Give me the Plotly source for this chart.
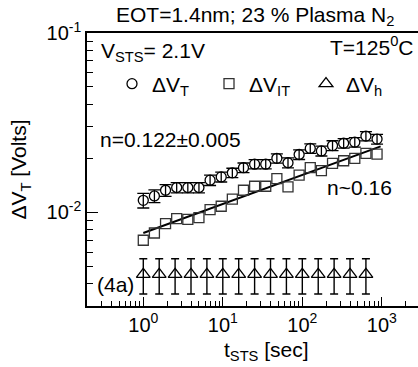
import plotly.graph_objects as go

# ---- data ----
t_T = [1.0, 1.380, 1.905, 2.630, 3.631, 5.012, 6.918, 9.550, 13.18, 18.20, 25.12,
       34.67, 47.86, 66.07, 91.20, 125.9, 173.8, 239.9, 331.1, 457.1, 631.0, 871.0]
dVT = [0.01166, 0.01233, 0.01327, 0.01374, 0.01374, 0.01374, 0.0151, 0.01575, 0.0166,
       0.01773, 0.01855, 0.01855, 0.01999, 0.01889, 0.0210, 0.0227, 0.0220, 0.02355,
       0.02427, 0.0246, 0.0266, 0.0256]
dVT_err = [0.0011, 0.0010, 0.0010, 0.0009, 0.0009, 0.0009, 0.0010, 0.0010, 0.0010,
           0.0011, 0.0011, 0.0011, 0.0012, 0.0012, 0.0013, 0.0014, 0.0014, 0.0015,
           0.0015, 0.0015, 0.0016, 0.0016]
dVIT = [0.00698, 0.00766, 0.00865, 0.00922, 0.00913, 0.00934, 0.01035, 0.0108, 0.01183,
        0.01327, 0.01397, 0.01397, 0.0154, 0.01386, 0.0161, 0.01773, 0.01706, 0.01874,
        0.01938, 0.01999, 0.0213, 0.0211]
t_h = [1.0, 1.585, 2.512, 3.981, 6.310, 10.0, 15.85, 25.12, 39.81, 63.10, 100.0,
       158.5, 251.2, 398.1, 631.0]
dVh = [0.0045, 0.0045, 0.0045, 0.0045, 0.0045, 0.0045, 0.0045, 0.0045, 0.0045,
       0.0045, 0.0045, 0.0045, 0.0045, 0.0045, 0.0045]
dVh_err = [0.001, 0.001, 0.001, 0.001, 0.001, 0.001, 0.001, 0.001, 0.001,
           0.001, 0.001, 0.001, 0.001, 0.001, 0.001]
t_fit = [1.0, 966.0]
v_fit = [0.00766, 0.0233]

x_tickvals = [1, 10, 100, 1000]
x_ticktext = ["10<sup>0</sup>", "10<sup>1</sup>", "10<sup>2</sup>", "10<sup>3</sup>"]
y_tickvals = [0.01, 0.1]
y_ticktext = ["10<sup>-2</sup>", "10<sup>-1</sup>"]

FONT = "Liberation Sans, Arial, sans-serif"
FS = 21

x_minor = [m * 10.0 ** k for k in range(-1, 4) for m in range(2, 10)]
y_minor = [m * 10.0 ** k for k in range(-3, -1) for m in range(2, 10)]

fig = go.Figure()
fig.add_trace(go.Scatter(x=t_fit, y=v_fit, mode="lines",
                         line=dict(color="black", width=2), showlegend=False))
fig.add_trace(go.Scatter(
    x=t_T, y=dVT, mode="markers", name="ΔV<sub>T</sub>",
    marker=dict(symbol="circle-open", size=10, color="black", line=dict(width=1.3)),
    error_y=dict(type="data", array=dVT_err, visible=True, color="black",
                 thickness=1.3, width=6)))
fig.add_trace(go.Scatter(
    x=t_T, y=dVIT, mode="markers", name="ΔV<sub>IT</sub>",
    marker=dict(symbol="square-open", size=10, color="#333333", line=dict(width=1.3))))
fig.add_trace(go.Scatter(
    x=t_h, y=dVh, mode="markers", name="ΔV<sub>h</sub>",
    marker=dict(symbol="triangle-up-open", size=12, color="black", line=dict(width=1.3)),
    error_y=dict(type="data", array=dVh_err, visible=True, color="black",
                 thickness=1.4, width=4)))

def px_x(px):
    return (px - 87) / 331.0

def px_y(py):
    return (306 - py) / 273.0

ann = [
    dict(text="EOT=1.4nm; 23 % Plasma N<sub>2</sub>", x=px_x(114), y=px_y(16),
         xanchor="left", yanchor="middle"),
    dict(text="V<sub>STS</sub>= 2.1V", x=px_x(99), y=px_y(52),
         xanchor="left", yanchor="middle"),
    dict(text="T=125<sup>0</sup>C", x=px_x(415), y=px_y(46),
         xanchor="right", yanchor="middle"),
    dict(text="n=0.122±0.005", x=px_x(98), y=px_y(139),
         xanchor="left", yanchor="middle"),
    dict(text="n~0.16", x=px_x(325), y=px_y(187),
         xanchor="left", yanchor="middle"),
    dict(text="(4a)", x=px_x(95), y=px_y(284),
         xanchor="left", yanchor="middle"),
    dict(text="t<sub>STS</sub> [sec]", x=px_x(222), y=px_y(351),
         xanchor="left", yanchor="middle"),
]
for a in ann:
    a.update(xref="paper", yref="paper", showarrow=False,
             font=dict(family=FONT, size=FS, color="black"))

fig.update_layout(
    width=418, height=367,
    margin=dict(l=87, r=0, t=33, b=61),
    paper_bgcolor="white", plot_bgcolor="white",
    font=dict(family=FONT, size=FS, color="black"),
    showlegend=True,
    legend=dict(orientation="h", x=px_x(112), y=px_y(84), xanchor="left",
                yanchor="middle", font=dict(family=FONT, size=FS),
                bgcolor="rgba(0,0,0,0)", itemwidth=30,
                entrywidth=52, entrywidthmode="pixels"),
    annotations=ann,
)
fig.update_xaxes(
    type="log", range=[-0.708, 3.455], showgrid=False, zeroline=False,
    showline=True, linecolor="black", linewidth=1.5, mirror=True,
    ticks="inside", ticklen=9, tickwidth=1.3, tickcolor="black",
    tickmode="array", tickvals=x_tickvals, ticktext=x_ticktext,
    tickfont=dict(family=FONT, size=20),
    minor=dict(ticks="inside", ticklen=5, tickwidth=1.2, tickcolor="black",
               tickmode="array", tickvals=x_minor, showgrid=False),
)
fig.update_yaxes(
    type="log", range=[-2.5229, -1.0], showgrid=False, zeroline=False,
    showline=True, linecolor="black", linewidth=1.5, mirror=False,
    ticks="inside", ticklen=11, tickwidth=1.3, tickcolor="black",
    tickmode="array", tickvals=y_tickvals, ticktext=y_ticktext,
    tickfont=dict(family=FONT, size=20),
    minor=dict(ticks="inside", ticklen=6, tickwidth=1.2, tickcolor="black",
               tickmode="array", tickvals=y_minor, showgrid=False),
    title=dict(text="ΔV<sub>T</sub> [Volts]", font=dict(family=FONT, size=FS),
               standoff=14),
)

fig.write_html("out.html", config={"displayModeBar": False},
               post_script="document.body.style.margin='0';")
